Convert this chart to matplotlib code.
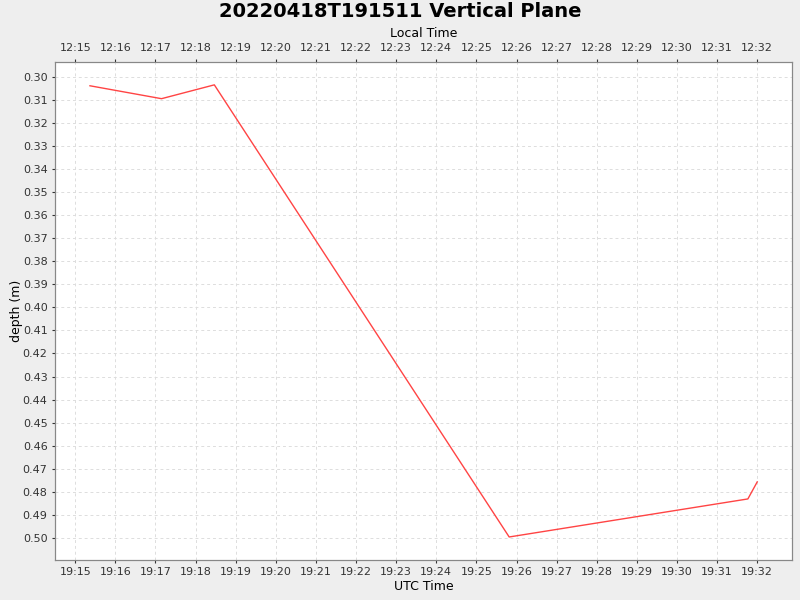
import matplotlib
matplotlib.use("Agg")
import matplotlib.pyplot as plt
import matplotlib.dates as mdates
from datetime import datetime, timedelta

# UTC sample times and depths
times = ["19:15:22", "19:17:09", "19:18:28", "19:25:49", "19:31:46", "19:32:00"]
depth = [0.3039, 0.3095, 0.3035, 0.4996, 0.4831, 0.4757]
utc_offset_h = -7

day = "2022-04-18 "
t = [datetime.strptime(day + s, "%Y-%m-%d %H:%M:%S") for s in times]

fig = plt.figure(figsize=(8, 6), dpi=100, facecolor="#eeeeee")
ax = fig.add_axes([0.069, 0.067, 0.921, 0.83])
ax.set_facecolor("white")
ax.plot(t, depth, color="#ff4444", lw=1)

x0 = datetime.strptime(day + "19:14:30", "%Y-%m-%d %H:%M:%S")
x1 = datetime.strptime(day + "19:32:52", "%Y-%m-%d %H:%M:%S")
ax.set_xlim(x0, x1)
ax.set_ylim(0.5095, 0.2935)
ax.set_yticks([0.30 + 0.01 * i for i in range(21)])
ax.yaxis.set_major_formatter(plt.FormatStrFormatter("%.2f"))
ax.xaxis.set_major_locator(mdates.MinuteLocator())
ax.xaxis.set_major_formatter(mdates.DateFormatter("%H:%M"))
ax.tick_params(labelsize=8, length=2, colors="#333333")
ax.grid(True, color="#dddddd", ls=(0, (3, 3)), lw=0.7)
for s in ax.spines.values():
    s.set_color("#888888")
ax.set_xlabel("UTC Time", fontsize=9, labelpad=2)
ax.set_ylabel("depth (m)", fontsize=9, labelpad=0)

# local time axis on top
top = ax.twiny()
off = timedelta(hours=utc_offset_h)
top.set_xlim(x0 + off, x1 + off)
top.xaxis.set_major_locator(mdates.MinuteLocator())
top.xaxis.set_major_formatter(mdates.DateFormatter("%H:%M"))
top.tick_params(labelsize=8, length=2, pad=4, colors="#333333")
top.set_xlabel("Local Time", fontsize=9, labelpad=5)
for s in top.spines.values():
    s.set_color("#888888")

fig.suptitle("20220418T191511 Vertical Plane", fontsize=14, fontweight="bold", y=0.997)
fig.savefig("out.png", facecolor=fig.get_facecolor())
